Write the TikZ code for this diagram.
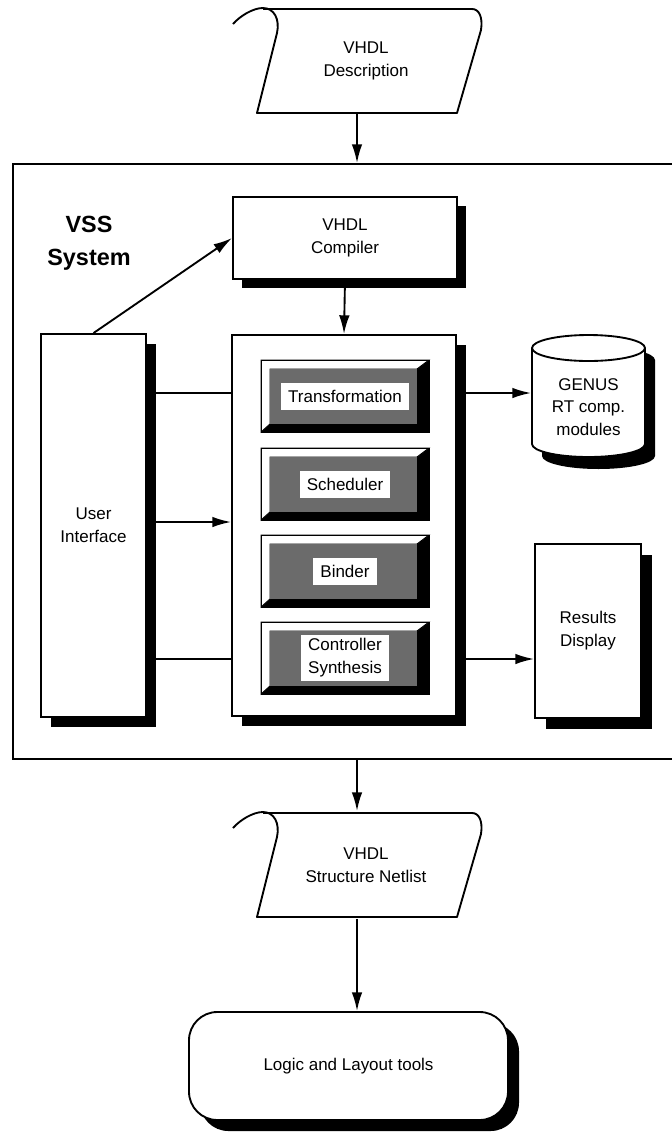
\documentclass[tikz,border=0pt]{standalone}
\usepackage{fontspec}
\setmainfont{Liberation Sans}
\usetikzlibrary{calc, shadows, arrows.meta}

% outline of a document (input / output file)
\newcommand{\docframe}[1]{%
  \draw[shift={(#1)}, line join=round] (-103,-52) -- (106,-52)
    .. controls (113,-52) and (117,-44) .. (115,-31) -- (91,52) -- (-109,52) -- (-89,-28)
    .. controls (-86,-42) and (-92,-53) .. (-103,-53)
    .. controls (-113,-53) and (-126,-45) .. (-133,-37);}

% raised button of a synthesis step
\newcommand{\modframe}[1]{%
  \begin{scope}[shift={(#1)}, line width=0.8pt]
    \fill[black] (84,-36) -- (84,36) -- (-84,36) -- (-75,28) -- (72,28) -- (72,-27) -- cycle;
    \filldraw[fill=white] (-84,-36) -- (84,-36) -- (72,-27) -- (-75,-27) -- (-75,28) -- (-84,36) -- cycle;
    \fill[black!58] (-75,-27) rectangle (72,28);
    \draw (-84,-36) rectangle (84,36);
  \end{scope}}

\begin{document}
\begin{tikzpicture}[x=0.03cm, y=-0.03cm, line width=1.6pt,
  every node/.style={font=\fontsize{14.5}{19.5}\selectfont, align=center},
  box/.style={draw, fill=white, inner sep=0pt},
  dshadow/.style={drop shadow={shadow xshift=#1, shadow yshift=-#1, fill=black, opacity=1}},
  arr/.style={-{Latex[length=16pt, width=9pt]}},
  tag/.style={fill=white, inner xsep=6pt, inner ysep=3pt, minimum height=0.81cm},
]
  \clip (0,0) rectangle (672,1139);
  \coordinate (axis) at (357,0);
  \coordinate (r1) at (0,393);
  \coordinate (r2) at (0,522);
  \coordinate (r3) at (0,659);

  % VSS frame
  \node[draw, minimum width=19.89cm, minimum height=17.85cm] (vss) at (344.5,461.5) {};
  \node[font=\bfseries\fontsize{20}{28}\selectfont] (title) at (89,243) {VSS\\System};

  \node[box, dshadow=0.27cm, minimum width=6.72cm, minimum height=2.46cm] (comp) at (345,238) {VHDL\\Compiler};
  \node[box, dshadow=0.3cm, minimum width=3.15cm, minimum height=11.49cm] (ui) at (93.5,525.5) {User\\Interface};
  \node[box, dshadow=0.3cm, minimum width=6.72cm, minimum height=11.43cm] (core) at (344,525.5) {};
  \node[box, dshadow=0.32cm, minimum width=3.18cm, minimum height=5.22cm] (res) at (588,631) {Results\\Display};

  \foreach \nm/\yy/\txt in {trans/396/Transformation, sched/484/Scheduler,
      bind/571/Binder, ctrl/658/{Controller\\Synthesis}} {
    \modframe{345,\yy}
    \node[tag] (\nm) at (345,\yy) {\txt};
  }

  % library cylinder
  \coordinate (gc) at (588.5,407);
  \fill[shift={($(gc)+(10,12)$)}] (-56.5,-59) -- (-56.5,37)
    arc[start angle=180, end angle=0, x radius=56.5, y radius=13] -- (56.5,-59)
    arc[start angle=0, end angle=-180, x radius=56.5, y radius=13] -- cycle;
  \filldraw[fill=white, shift={(gc)}] (-56.5,-59) -- (-56.5,37)
    arc[start angle=180, end angle=0, x radius=56.5, y radius=13] -- (56.5,-59)
    arc[start angle=0, end angle=-180, x radius=56.5, y radius=13] -- cycle;
  \draw[shift={(gc)}] (-56.5,-59) arc[start angle=180, end angle=0, x radius=56.5, y radius=13];
  \node[minimum width=3.39cm, inner sep=0pt] (genus) at (gc) {GENUS\\RT comp.\\modules};

  \node[box, rounded corners=0.85cm, dshadow=0.33cm, minimum width=9.57cm, minimum height=3.24cm] (logic) at (348.5,1066) {Logic and Layout tools};

  \node[minimum height=3.12cm, inner sep=0pt] (desc) at (366,61) {VHDL\\Description};
  \node[minimum height=3.18cm, inner sep=0pt] (net) at (366,865) {VHDL\\Structure Netlist};
  \docframe{desc}
  \docframe{net}

  \draw[arr] (desc.south -| axis) -- (vss.north -| axis);
  \draw[arr] (comp.south) -- (core.north);
  \draw[arr] (ui.north) -- (comp.west);
  \draw (ui.east |- r1) -- (core.west |- r1);
  \draw[arr] (core.east |- r1) -- (genus.west |- r1);
  \draw[arr] (ui.east |- r2) -- (core.west |- r2);
  \draw (ui.east |- r3) -- (core.west |- r3);
  \draw[arr] (core.east |- r3) -- (res.west |- r3);
  \draw[arr] (vss.south -| axis) -- (net.north -| axis);
  \draw[arr] (net.south -| axis) -- (logic.north -| axis);
\end{tikzpicture}
\end{document}
